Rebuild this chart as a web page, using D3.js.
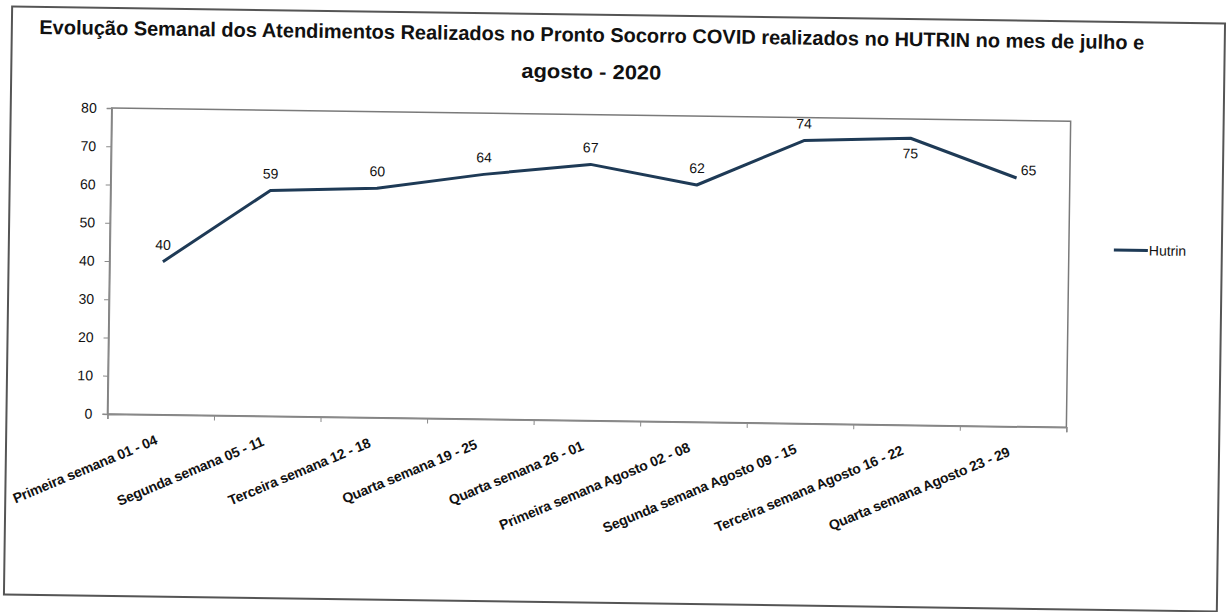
<!DOCTYPE html>
<html>
<head>
<meta charset="utf-8">
<script src="https://cdn.jsdelivr.net/npm/d3@7"></script>
<style>
  html, body { margin: 0; padding: 0; background: #fff; }
  text { font-family: "Liberation Sans", Arial, sans-serif; fill: #111; }
</style>
</head>
<body>
<div id="chart"></div>
<script>
// Dados
const categories = [
  "Primeira semana 01 - 04",
  "Segunda semana 05 - 11",
  "Terceira semana 12 - 18",
  "Quarta semana 19 - 25",
  "Quarta semana 26 - 01",
  "Primeira semana Agosto 02 - 08",
  "Segunda semana  Agosto 09 - 15",
  "Terceira semana Agosto 16 - 22",
  "Quarta semana Agosto 23 - 29"
];
const hutrin = [40, 59, 60, 64, 67, 62, 74, 75, 65];
const yTicks = [0, 10, 20, 30, 40, 50, 60, 70, 80];
const seriesName = "Hutrin";
const titleLines = [
  "Evolução Semanal dos Atendimentos Realizados no Pronto Socorro COVID realizados no HUTRIN  no mes de julho e",
  "agosto  -  2020"
];

const W = 1227, H = 612;
const lineColor = "#1e3a56";

const svg = d3.select("#chart")
  .append("svg")
  .attr("width", W)
  .attr("height", H);

// a folha escaneada esta levemente girada
const g = svg.append("g")
  .attr("transform", "rotate(0.8, 614, 308)");

// moldura externa
g.append("rect")
  .attr("x", 8).attr("y", 15)
  .attr("width", 1213).attr("height", 588)
  .attr("fill", "#fff")
  .attr("stroke", "#555")
  .attr("stroke-width", 2);

// Titulo
g.append("text")
  .attr("x", 588).attr("y", 42)
  .attr("text-anchor", "middle")
  .attr("textLength", 1105)
  .attr("lengthAdjust", "spacingAndGlyphs")
  .style("font-size", "20px")
  .style("font-weight", "bold")
  .text(titleLines[0]);

g.append("text")
  .attr("x", 588).attr("y", 79)
  .attr("text-anchor", "middle")
  .attr("textLength", 140)
  .attr("lengthAdjust", "spacingAndGlyphs")
  .style("font-size", "20px")
  .style("font-weight", "bold")
  .text(titleLines[1]);

// Escalas
const plot = { left: 109, right: 1068, top: 115, bottom: 421 };
const x = d3.scaleBand().domain(categories).range([plot.left, plot.right]);
const xEdge = d3.scaleLinear().domain([0, categories.length]).range([plot.left, plot.right]);
const y = d3.scaleLinear().domain([0, 80]).range([plot.bottom, plot.top]);

// area do grafico
g.append("rect")
  .attr("x", plot.left).attr("y", plot.top)
  .attr("width", plot.right - plot.left).attr("height", plot.bottom - plot.top)
  .attr("fill", "none")
  .attr("stroke", "#7a7a7a")
  .attr("stroke-width", 1.5);

// Eixos
const yAxis = g.append("g")
  .attr("transform", `translate(${plot.left},0)`)
  .call(d3.axisLeft(y).tickValues(yTicks).tickSize(5).tickPadding(10));
yAxis.select(".domain").attr("stroke", "#8a8a8a").attr("stroke-width", 1.5);
yAxis.selectAll(".tick line").attr("stroke", "#8a8a8a");
yAxis.selectAll(".tick text")
  .style("font-size", "14px")
  .style("font-family", "'Liberation Sans', Arial, sans-serif")
  .attr("fill", "#111");

const xAxis = g.append("g")
  .attr("transform", `translate(0,${plot.bottom})`)
  .call(d3.axisBottom(xEdge).ticks(categories.length).tickFormat("").tickSize(5));
xAxis.select(".domain").attr("stroke", "#8a8a8a").attr("stroke-width", 1.5);
xAxis.selectAll(".tick line").attr("stroke", "#8a8a8a");

// rotulos das categorias
g.selectAll(".xlabel")
  .data(categories)
  .enter()
  .append("text")
  .attr("class", "xlabel")
  .attr("text-anchor", "end")
  .attr("transform", d => `translate(${x(d) + x.bandwidth() / 2 - 2},${plot.bottom + 29}) rotate(-23.5)`)
  .style("font-size", "14px")
  .style("font-weight", "bold")
  .style("letter-spacing", "-0.2px")
  .text(d => d);

// Linha
const pts = categories.map((c, i) => ({ c, v: hutrin[i], i }));
const line = d3.line()
  .x(d => x(d.c) + x.bandwidth() / 2)
  .y(d => y(d.v));

g.append("path")
  .datum(pts)
  .attr("fill", "none")
  .attr("stroke", lineColor)
  .attr("stroke-width", 3)
  .attr("stroke-linejoin", "round")
  .attr("d", line);

// rotulos de dados
g.selectAll(".dlabel")
  .data(pts)
  .enter()
  .append("text")
  .attr("class", "dlabel")
  .attr("text-anchor", "middle")
  .attr("x", d => x(d.c) + x.bandwidth() / 2 + (d.i === pts.length - 1 ? 12 : 0))
  .attr("y", d => {
    const py = y(d.v);
    if (d.i === 7) return py + 20;
    if (d.i === pts.length - 1) return py - 3;
    return py - 12;
  })
  .style("font-size", "14px")
  .text(d => d.v);

// Legenda
const lg = g.append("g").attr("transform", "translate(1113,243)");
lg.append("line")
  .attr("x1", 0).attr("x2", 34)
  .attr("y1", 0).attr("y2", 0)
  .attr("stroke", lineColor)
  .attr("stroke-width", 3);
lg.append("text")
  .attr("x", 35).attr("y", 5)
  .style("font-size", "14px")
  .text(seriesName);
</script>
</body>
</html>
